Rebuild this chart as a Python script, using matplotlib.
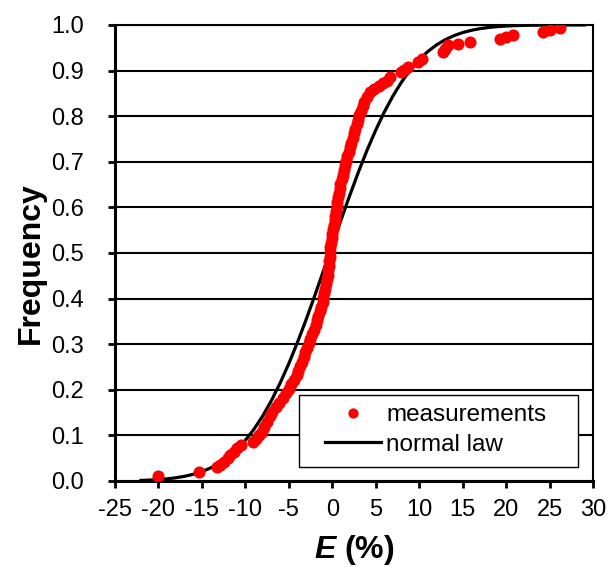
import matplotlib
matplotlib.use("Agg")
import matplotlib.pyplot as plt
import matplotlib.patches as patches
from matplotlib.ticker import FormatStrFormatter

# DATA
# measurements: error E (%) and cumulative frequency
meas_E = [
    -20.0, -15.3, -13.3, -12.9, -12.4, -12.0, -11.7, -11.3, -10.9, -10.5,
    -9.1, -8.8, -8.4, -8.1, -7.8, -7.5, -7.2, -6.9, -6.5, -6.1,
    -5.7, -5.3, -5.0, -4.7, -4.4, -4.1, -3.9, -3.7, -3.5, -3.3,
    -3.1, -2.9, -2.7, -2.5, -2.3, -2.1, -1.9, -1.7, -1.6, -1.4,
    -1.25, -1.1, -1.0, -0.9, -0.8, -0.7, -0.6, -0.5, -0.45, -0.4,
    -0.35, -0.3, -0.25, -0.2, -0.1, -0.05, 0.0, 0.1, 0.2, 0.3,
    0.35, 0.45, 0.5, 0.6, 0.7, 0.75, 0.85, 0.95, 1.1, 1.2,
    1.35, 1.5, 1.6, 1.75, 1.9, 2.05, 2.2, 2.35, 2.5, 2.65,
    2.8, 2.95, 3.1, 3.3, 3.5, 3.7, 4.0, 4.4, 4.8, 5.4,
    5.9, 6.3, 6.7, 7.9, 8.3, 8.7, 9.9, 10.3, 12.7, 13.0,
    13.3, 14.5, 15.8, 19.3, 20.0, 20.8, 24.3, 25.0, 26.2,
]
meas_F = [
    0.010, 0.020, 0.030, 0.035, 0.042, 0.050, 0.057, 0.064, 0.072, 0.080,
    0.085, 0.092, 0.100, 0.108, 0.118, 0.130, 0.142, 0.152, 0.162, 0.172,
    0.182, 0.192, 0.202, 0.212, 0.222, 0.232, 0.242, 0.252, 0.262, 0.272,
    0.282, 0.292, 0.302, 0.312, 0.322, 0.332, 0.342, 0.352, 0.362, 0.372,
    0.382, 0.392, 0.402, 0.412, 0.422, 0.432, 0.442, 0.452, 0.462, 0.472,
    0.482, 0.492, 0.502, 0.512, 0.522, 0.532, 0.542, 0.552, 0.562, 0.572,
    0.582, 0.592, 0.602, 0.612, 0.622, 0.632, 0.642, 0.652, 0.662, 0.672,
    0.682, 0.692, 0.702, 0.712, 0.722, 0.732, 0.742, 0.752, 0.762, 0.772,
    0.782, 0.792, 0.802, 0.812, 0.822, 0.832, 0.842, 0.852, 0.860, 0.866,
    0.872, 0.878, 0.886, 0.896, 0.902, 0.908, 0.918, 0.926, 0.940, 0.948,
    0.955, 0.958, 0.962, 0.970, 0.973, 0.978, 0.984, 0.988, 0.993,
]

# normal law curve, read every 1 %
law_E = list(range(-22, 30))
law_F = [
    0.0013, 0.0020, 0.0031, 0.0047, 0.0070, 0.0102, 0.0146, 0.0206,
    0.0285, 0.0389, 0.0521, 0.0686, 0.0890, 0.1135, 0.1425, 0.1760,
    0.2143, 0.2570, 0.3037, 0.3538, 0.4067, 0.4613, 0.5166, 0.5717,
    0.6252, 0.6766, 0.7248, 0.7691, 0.8092, 0.8447, 0.8755, 0.9018,
    0.9238, 0.9417, 0.9562, 0.9676, 0.9765, 0.9832, 0.9882, 0.9919,
    0.9945, 0.9963, 0.9976, 0.9985, 0.9990, 0.9994, 0.9996, 0.9998,
    0.9999, 0.9999, 1.0000, 1.0000,
]

x_ticks = list(range(-25, 31, 5))
y_ticks = [0.0, 0.1, 0.2, 0.3, 0.4, 0.5, 0.6, 0.7, 0.8, 0.9, 1.0]

# STYLE
plt.rcParams['font.family'] = ['Liberation Sans', 'DejaVu Sans']
plt.rcParams['axes.unicode_minus'] = False
plt.rcParams['mathtext.fontset'] = 'custom'
plt.rcParams['mathtext.it'] = 'Liberation Sans:italic:bold'
plt.rcParams['mathtext.rm'] = 'Liberation Sans:bold'

fig = plt.figure(figsize=(6.11, 5.67), dpi=100)
ax = fig.add_axes([0.188, 0.1517, 0.7825, 0.8043])

# PLOT
line_law, = ax.plot(law_E, law_F, color='black', linewidth=2.3,
                    label='normal law', zorder=3)
pts, = ax.plot(meas_E, meas_F, linestyle='none', marker='o',
               markersize=8.7, color='#ff0000', markeredgewidth=0,
               label='measurements', zorder=4)

ax.set_xlim(-25, 30)
ax.set_ylim(0, 1)
ax.set_xticks(x_ticks)
ax.set_yticks(y_ticks)
ax.yaxis.set_major_formatter(FormatStrFormatter('%.1f'))

ax.set_axisbelow(True)
ax.yaxis.grid(True, color='black', linewidth=1.5)

ax.spines['left'].set_linewidth(2.2)
ax.spines['bottom'].set_linewidth(2.2)
ax.spines['right'].set_linewidth(1.5)
ax.spines['top'].set_linewidth(1.5)

ax.tick_params(axis='both', direction='out', length=5, width=2,
               labelsize=17, colors='black')
ax.tick_params(axis='y', pad=17)
ax.tick_params(axis='x', pad=8)

ax.set_ylabel('Frequency', fontsize=23, fontweight='bold')
ax.yaxis.set_label_coords(-0.145, 0.478)
ax.set_xlabel('$E$ (%)', fontsize=23, fontweight='bold')
ax.xaxis.set_label_coords(0.5, -0.114)

# LEGEND (box drawn separately so padding matches)
box = patches.Rectangle((0.385, 0.031), 0.584, 0.158,
                        transform=ax.transAxes, facecolor='white',
                        edgecolor='black', linewidth=1.0, zorder=5)
ax.add_patch(box)

leg = ax.legend(handles=[pts, line_law], loc='center left',
                bbox_to_anchor=(0.439, 0.112), frameon=False,
                fontsize=17.5, handlelength=2.33, handletextpad=0.2,
                borderpad=0, borderaxespad=0, labelspacing=0.3,
                numpoints=1, markerscale=0.85)
leg.set_zorder(6)

fig.savefig('out.png', dpi=100)
